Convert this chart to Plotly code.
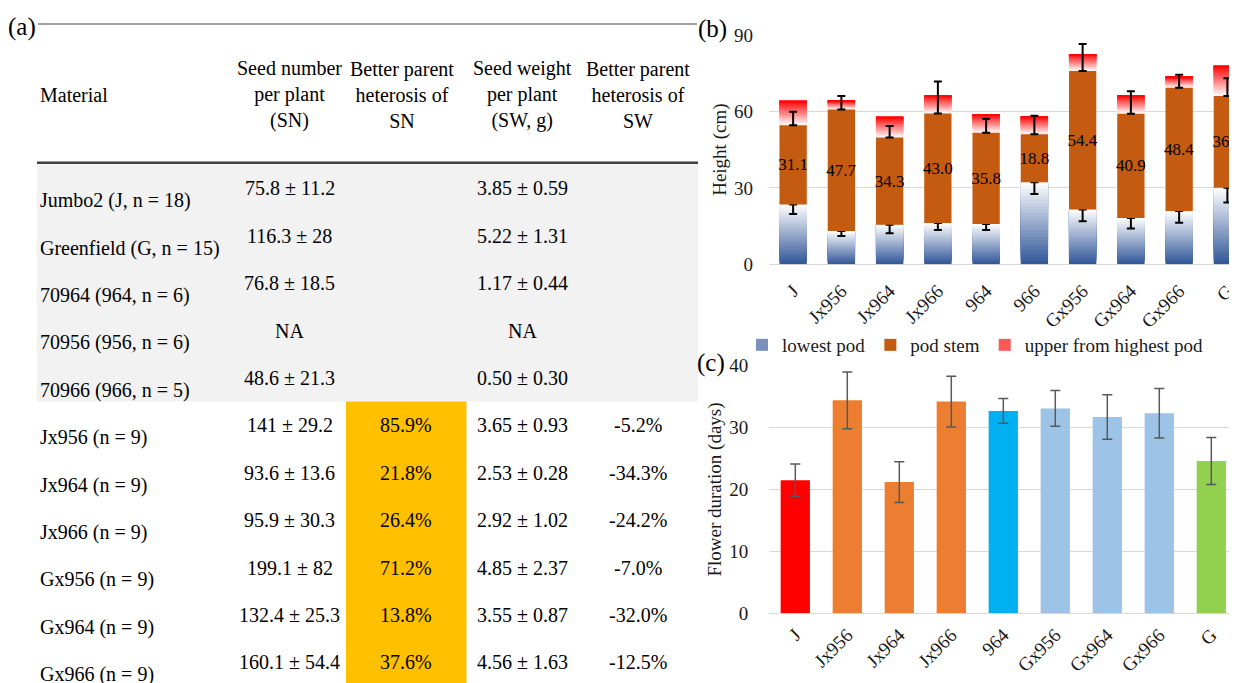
import plotly.graph_objects as go

W, H = 1237, 683
OFF = 8  # the page body margin shifts the figure by 8 px; positions below are screen px
FONT = "Liberation Serif, Times New Roman, serif"

# ---------------- (a) table data ----------------
materials = ["Jumbo2 (J, n = 18)", "Greenfield (G, n = 15)", "70964 (964, n = 6)",
             "70956 (956, n = 6)", "70966 (966, n = 5)", "Jx956 (n = 9)", "Jx964 (n = 9)",
             "Jx966 (n = 9)", "Gx956 (n = 9)", "Gx964 (n = 9)", "Gx966 (n = 9)"]
seed_number = ["75.8 ± 11.2", "116.3 ± 28", "76.8 ± 18.5", "NA", "48.6 ± 21.3",
               "141 ± 29.2", "93.6 ± 13.6", "95.9 ± 30.3", "199.1 ± 82", "132.4 ± 25.3",
               "160.1 ± 54.4"]
bph_sn = ["", "", "", "", "", "85.9%", "21.8%", "26.4%", "71.2%", "13.8%", "37.6%"]
seed_weight = ["3.85 ± 0.59", "5.22 ± 1.31", "1.17 ± 0.44", "NA", "0.50 ± 0.30",
               "3.65 ± 0.93", "2.53 ± 0.28", "2.92 ± 1.02", "4.85 ± 2.37", "3.55 ± 0.87",
               "4.56 ± 1.63"]
bph_sw = ["", "", "", "", "", "-5.2%", "-34.3%", "-24.2%", "-7.0%", "-32.0%", "-12.5%"]
n_parents = 5
header_material = "Material"
headers = ["Seed number<br>per plant<br>(SN)", "Better parent<br>heterosis of<br>SN",
           "Seed weight<br>per plant<br>(SW, g)", "Better parent<br>heterosis of<br>SW"]

# ---------------- (b) plant height data ----------------
height_cats = ["J", "Jx956", "Jx964", "Jx966", "964", "966", "Gx956", "Gx964", "Gx966", "G"]
lowest_pod = [23.5, 13.1, 15.5, 16.2, 15.8, 32.2, 21.5, 18.2, 20.9, 30.0]
pod_stem = [31.1, 47.7, 34.3, 43.0, 35.8, 18.8, 54.4, 40.9, 48.4, 36.1]
upper_pod = [9.6, 3.4, 8.1, 7.0, 7.3, 6.9, 6.6, 7.1, 4.3, 11.8]
lowest_err = [3.8, 2.0, 3.3, 2.7, 2.3, 4.6, 4.6, 4.1, 4.6, 5.7]
stem_err = [5.3, 5.3, 4.5, 12.5, 5.5, 7.3, 10.6, 8.8, 5.1, 6.9]
height_ticks = [0, 30, 60, 90]

# ---------------- (c) flower duration data ----------------
dur_cats = ["J", "Jx956", "Jx964", "Jx966", "964", "Gx956", "Gx964", "Gx966", "G"]
duration = [21.5, 34.4, 21.2, 34.2, 32.7, 33.1, 31.7, 32.3, 24.6]
duration_err = [2.6, 4.6, 3.3, 4.1, 2.0, 2.9, 3.6, 4.0, 3.8]
dur_colors = ["#FF0000", "#ED7D31", "#ED7D31", "#ED7D31", "#00B0F0",
              "#9DC3E6", "#9DC3E6", "#9DC3E6", "#92D050"]
dur_ticks = [0, 10, 20, 30, 40]


def px(x):
    return (x - OFF) / W


def py(y):
    return 1 - (y - OFF) / H


def lerp(c1, c2, t):
    return "rgb(%d,%d,%d)" % tuple(round(a + (b - a) * t) for a, b in zip(c1, c2))


BLUE_DARK = (47, 85, 151)
WHITE = (255, 255, 255)
RED = (255, 0, 0)
N_BLUE, N_RED = 24, 16
BW_B = 0.566
BW_C = 0.563

# plot-area geometry (screen px)
B_LEFT, B_STEP = 769.0, 48.25
C_LEFT, C_STEP = 769.3, 52.0
RIGHT = OFF + W
TABLE_RIGHT = 708

fig = go.Figure()

# lowest pod: vertical gradient dark blue -> white (overlapping layers, no seams)
for k in range(N_BLUE):
    kw = {}
    if k == N_BLUE - 1:
        kw["error_y"] = dict(type="data", symmetric=False, array=[0] * len(lowest_pod),
                             arrayminus=lowest_err, color="black", thickness=2, width=4)
    fig.add_trace(go.Bar(
        x=height_cats, y=[v * (N_BLUE - k) / N_BLUE for v in lowest_pod],
        base=[v * k / N_BLUE for v in lowest_pod], width=BW_B,
        marker=dict(color=lerp(BLUE_DARK, WHITE, (k + 0.5) / N_BLUE), line=dict(width=0)),
        name="lowest pod", legendgroup="lowest", showlegend=(k == N_BLUE // 3), legendrank=1,
        xaxis="x", yaxis="y", hoverinfo="skip", **kw))

# upper from highest pod: gradient white (bottom) -> red (top)
for k in range(N_RED):
    fig.add_trace(go.Bar(
        x=height_cats, y=[u * (N_RED - k) / N_RED for u in upper_pod],
        base=[a + b + u * k / N_RED for a, b, u in zip(lowest_pod, pod_stem, upper_pod)],
        width=BW_B,
        marker=dict(color=lerp(WHITE, RED, (k + 0.5) / N_RED), line=dict(width=0)),
        name="upper from highest pod", legendgroup="upper",
        showlegend=(k == (2 * N_RED) // 3), legendrank=3,
        xaxis="x", yaxis="y", hoverinfo="skip"))

# pod stem
fig.add_trace(go.Bar(
    x=height_cats, y=pod_stem, base=lowest_pod, width=BW_B,
    marker=dict(color="#C55A11", line=dict(width=0)),
    name="pod stem", legendgroup="stem", legendrank=2,
    text=["%.1f" % v for v in pod_stem], textposition="inside", insidetextanchor="middle",
    textangle=0, constraintext="none",
    textfont=dict(family=FONT, size=17, color="black"),
    error_y=dict(type="data", symmetric=False, array=stem_err, arrayminus=[0] * len(stem_err),
                 color="black", thickness=2, width=4),
    xaxis="x", yaxis="y"))

# (c) flower duration
fig.add_trace(go.Bar(
    x=dur_cats, y=duration, width=BW_C, marker=dict(color=dur_colors, line=dict(width=0)),
    error_y=dict(type="data", array=duration_err, color="#595959", thickness=1.5, width=5),
    showlegend=False, name="flower duration", xaxis="x2", yaxis="y2"))

# ---------------- table (a) ----------------
LABEL_X = 37.7
VAL_X = [289.5, 405.5, 522, 638]
HDR_X = [289, 401.5, 522.5, 638]
HDR_Y = 94.5
ROW0_Y = 188.3
ROW_DY = 47.4
LABEL_DY = 12.3
TF = dict(family=FONT, size=20, color="black")

annotations = []
annotations.append(dict(xref="x3", yref="y3", x=LABEL_X, y=HDR_Y, text=header_material,
                        showarrow=False, xanchor="left", yanchor="middle", font=TF))
for hx, ht in zip(HDR_X, headers):
    annotations.append(dict(xref="x3", yref="y3", x=hx, y=HDR_Y, text=ht, showarrow=False,
                            xanchor="center", yanchor="middle", align="center", font=TF))
columns = [seed_number, bph_sn, seed_weight, bph_sw]
for i, m in enumerate(materials):
    yv = ROW0_Y + i * ROW_DY
    annotations.append(dict(xref="x3", yref="y3", x=LABEL_X, y=yv + LABEL_DY, text=m,
                            showarrow=False, xanchor="left", yanchor="middle", font=TF))
    for cx, col in zip(VAL_X, columns):
        if col[i]:
            annotations.append(dict(xref="x3", yref="y3", x=cx, y=yv, text=col[i],
                                    showarrow=False, xanchor="center", yanchor="middle",
                                    font=TF))

# panel labels
PL = dict(family=FONT, size=25, color="black")
for txt, x, y in [("(a)", 6, 27), ("(b)", 696, 29), ("(c)", 695, 363)]:
    annotations.append(dict(xref="paper", yref="paper", x=px(x), y=py(y), text=txt,
                            showarrow=False, xanchor="left", yanchor="middle", font=PL))

gray_top = ROW0_Y - 0.5 * ROW_DY
gray_bot = ROW0_Y + (n_parents - 0.5) * ROW_DY
shapes = [
    dict(type="rect", xref="x3", yref="y3", x0=37, x1=698, y0=gray_top, y1=gray_bot,
         fillcolor="#F2F2F2", line=dict(width=0), layer="below"),
    dict(type="rect", xref="x3", yref="y3", x0=346, x1=466.5, y0=gray_bot, y1=H + OFF,
         fillcolor="#FFC000", line=dict(width=0), layer="below"),
    dict(type="line", xref="x3", yref="y3", x0=38, x1=697, y0=24, y1=24,
         line=dict(color="#7F7F7F", width=1.5)),
    dict(type="line", xref="x3", yref="y3", x0=37, x1=698, y0=162.7, y1=162.7,
         line=dict(color="#404040", width=2.5)),
]

TICKF = dict(family=FONT, size=19, color="#1a1a1a")
GRID = "#D9D9D9"

fig.update_layout(
    width=W, height=H, margin=dict(l=0, r=0, t=0, b=0, autoexpand=False),
    paper_bgcolor="white", plot_bgcolor="white",
    barmode="overlay", font=dict(family=FONT, color="black"),
    xaxis=dict(domain=[px(B_LEFT), 1.0], anchor="y", type="category",
               categoryorder="array", categoryarray=height_cats, automargin=False,
               range=[-0.5, -0.5 + (RIGHT - B_LEFT) / B_STEP], tickangle=-45, tickfont=TICKF,
               ticklabelstandoff=11,
               showgrid=False, showline=False, ticks="", zeroline=False),
    yaxis=dict(domain=[py(264.3), py(35)], anchor="x", range=[0, 90], tickvals=height_ticks,
               tickfont=TICKF, showgrid=True, gridcolor=GRID, gridwidth=1, automargin=False,
               zeroline=True, zerolinecolor=GRID, zerolinewidth=1, showline=False, ticks="",
               ticklabelstandoff=15,
               title=dict(text="Height (cm)", font=dict(family=FONT, size=19, color="#1a1a1a"),
                          standoff=2)),
    xaxis2=dict(domain=[px(C_LEFT), 1.0], anchor="y2", type="category",
                categoryorder="array", categoryarray=dur_cats, automargin=False,
                range=[-0.5, -0.5 + (RIGHT - C_LEFT) / C_STEP], tickangle=-45, tickfont=TICKF,
                ticklabelstandoff=6,
                showgrid=False, showline=False, ticks="", zeroline=False),
    yaxis2=dict(domain=[py(613.3), py(365.7)], anchor="x2", range=[0, 40], tickvals=dur_ticks,
                tickfont=TICKF, showgrid=True, gridcolor=GRID, gridwidth=1, automargin=False,
                zeroline=True, zerolinecolor=GRID, zerolinewidth=1, showline=False, ticks="",
                ticklabelstandoff=20,
                title=dict(text="Flower duration (days)",
                           font=dict(family=FONT, size=19, color="#1a1a1a"), standoff=2)),
    xaxis3=dict(domain=[0, px(TABLE_RIGHT)], anchor="y3", range=[OFF, TABLE_RIGHT],
                visible=False, automargin=False),
    yaxis3=dict(domain=[0, 1], anchor="x3", range=[OFF + H, OFF], visible=False,
                automargin=False),
    legend=dict(orientation="h", x=px(742), xanchor="left", y=py(345), yanchor="middle",
                font=dict(family=FONT, size=19, color="#1a1a1a"), bgcolor="rgba(0,0,0,0)",
                itemwidth=30, traceorder="normal"),
    annotations=annotations, shapes=shapes,
)

fig.write_html("out.html")
